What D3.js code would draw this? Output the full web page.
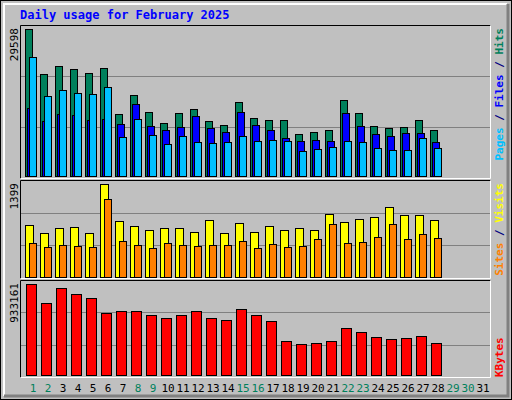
<!DOCTYPE html>
<html><head><meta charset="utf-8">
<script src="https://cdn.jsdelivr.net/npm/d3@7"></script>
<style>body{margin:0;background:#fff}text{font-family:"DejaVu Sans Mono",monospace}</style>
</head><body>
<svg width="512" height="400"></svg>
<script>
const days = d3.range(1, 32);
const weekend = [1, 2, 8, 9, 15, 16, 22, 23, 29, 30];
const hits = [29598,20470,22080,21480,20670,21680,12420,16240,12820,10610,12620,13430,11010,10210,14840,11620,11210,11210,8390,8800,9200,15240,12620,10000,9600,9800,11210,9200];
const files = [13630,11010,12420,12220,11210,11410,10410,14430,10000,9200,9800,12020,9600,8800,12820,10210,9200,7590,6990,7190,6990,12620,10000,8390,7990,8600,8600,6780];
const pages = [23890,16040,17250,16650,16450,17860,7790,11410,8190,6380,7990,6780,6580,6780,7990,6990,7190,6990,4970,5370,5780,6990,6780,5580,5170,5170,7590,5580];
const visits = [776,669,730,745,669,1399,836,760,700,730,730,684,852,669,806,684,760,700,730,700,943,821,867,897,1049,928,928,852];
const sites = [517,456,487,471,456,1171,547,487,441,517,487,471,487,487,547,441,502,456,471,578,791,517,532,608,791,578,654,593];
const kbytes = [933161,738330,892150,830620,789600,635790,656300,656300,615280,584510,615280,656300,584510,564000,676800,615280,553750,348660,317890,328150,348660,481960,440950,389680,369170,379420,399930,328150];

const svg = d3.select("svg");
svg.append("rect").attr("x",0.5).attr("y",0.5).attr("width",511).attr("height",399).attr("fill","#c0c0c0").attr("stroke","#000");
svg.append("path").attr("d","M4,396V4H507").attr("fill","none").attr("stroke","#fff").attr("stroke-width",2);
svg.append("path").attr("d","M508,4V396H4").attr("fill","none").attr("stroke","#808080").attr("stroke-width",3);

svg.append("text").attr("x",20).attr("y",19).attr("fill","#0000ff").attr("font-size",12).attr("font-weight","bold")
  .text("Daily usage for February 2025");

const x = d3.scaleBand().domain(days).range([25, 490]).paddingInner(0);

const panels = [
  {top: 25, bottom: 178, base: 176, peak: 29, max: 29598,
   series: [{v: hits, c: "#00805c", dx: 0, w: 7}, {v: files, c: "#0000ff", dx: 2, w: 7}, {v: pages, c: "#00c0ff", dx: 4, w: 7}],
   labels: [["Pages","#00c0ff"],[" / ","#000080"],["Files","#0000ff"],[" / ","#000080"],["Hits","#00805c"]], anchorTop: true},
  {top: 180, bottom: 278, base: 277, peak: 184, max: 1399,
   series: [{v: visits, c: "#ffff00", dx: 0, w: 8}, {v: sites, c: "#ff8000", dx: 4, w: 7}],
   labels: [["Sites","#ff8000"],[" / ","#000080"],["Visits","#ffff00"]], anchorTop: true},
  {top: 280, bottom: 377, base: 375, peak: 284, max: 933161,
   series: [{v: kbytes, c: "#ff0000", dx: 1, w: 10}],
   labels: [["KBytes","#ff0000"]], anchorTop: false}
];

panels.forEach(p => {
  const y = d3.scaleLinear().domain([0, p.max]).range([p.base, p.peak]);
  svg.append("rect").attr("x",20.5).attr("y",p.top+0.5).attr("width",470).attr("height",p.bottom-p.top).attr("fill","#c0c0c0");
  const h = p.bottom - p.top;
  [1/3, 2/3].forEach(f => svg.append("line").attr("x1",21).attr("x2",490)
    .attr("y1",Math.round(p.bottom - h*f)+0.5).attr("y2",Math.round(p.bottom - h*f)+0.5).attr("stroke","#808080"));
  svg.append("path").attr("d",`M20.5,${p.bottom+0.5}V${p.top+0.5}H490.5`).attr("fill","none").attr("stroke","#000");
  svg.append("path").attr("d",`M490.5,${p.top+0.5}V${p.bottom+0.5}H20.5`).attr("fill","none").attr("stroke","#fff");
  p.series.forEach(s => {
    svg.append("g").selectAll("rect").data(s.v).join("rect")
      .attr("x", (d,i) => x(i+1) + s.dx + 0.5).attr("y", d => Math.round(y(d)) + 0.5)
      .attr("width", s.w).attr("height", d => p.base - Math.round(y(d)))
      .attr("fill", s.c).attr("stroke", "#000");
  });
  svg.append("text").attr("transform",`translate(18,${p.top+3}) rotate(-90)`).attr("text-anchor","end")
    .attr("font-size",11).text(p.max);
  const t = svg.append("text").attr("font-size",11).attr("font-weight","bold")
    .attr("transform", p.anchorTop ? `translate(503,${p.top+3}) rotate(-90)` : `translate(503,${p.bottom}) rotate(-90)`)
    .attr("text-anchor", p.anchorTop ? "end" : "start");
  p.labels.forEach(l => t.append("tspan").attr("fill", l[1]).text(l[0]));
});

svg.append("g").selectAll("text").data(days).join("text")
  .attr("x", d => x(d) + 8).attr("y", 392).attr("text-anchor","middle").attr("font-size",11)
  .attr("fill", d => weekend.includes(d) ? "#00805c" : "#000").text(d => d);
</script>
</body></html>
